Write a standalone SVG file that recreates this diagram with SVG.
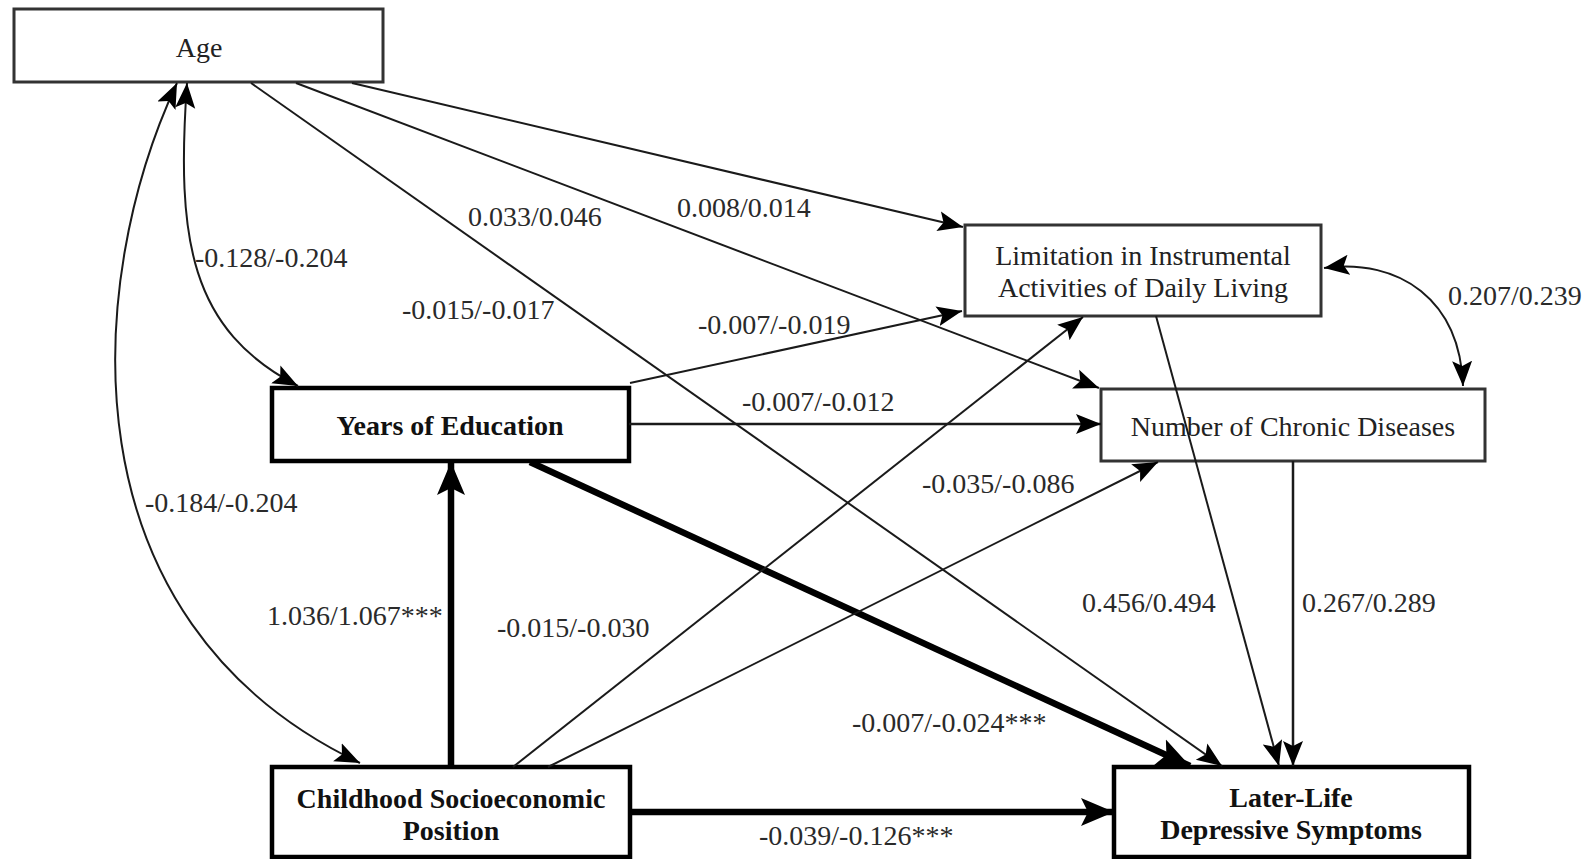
<svg xmlns="http://www.w3.org/2000/svg" width="1588" height="859" viewBox="0 0 1588 859">
<style>
  .box { fill: #fff; stroke: #333; stroke-width: 3; }
  .bbox { fill: #fff; stroke: #000; stroke-width: 4.5; }
  .nt { font-family: "Liberation Serif", "Times New Roman", serif; font-size: 28px; fill: #222; text-anchor: middle; }
  .bt { font-family: "Liberation Serif", "Times New Roman", serif; font-size: 28px; font-weight: bold; fill: #111; text-anchor: middle; }
  .lbl { font-family: "Liberation Serif", "Times New Roman", serif; font-size: 28px; fill: #2a2a2a; }
  .e { fill: none; stroke: #1a1a1a; stroke-width: 2; marker-end: url(#ah); }
  .e2 { fill: none; stroke: #1a1a1a; stroke-width: 2; marker-end: url(#ah); marker-start: url(#ah); }
  .eb { fill: none; stroke: #000; stroke-width: 6.5; marker-end: url(#ahb); }
</style>
<defs>
  <marker id="ah" markerUnits="userSpaceOnUse" viewBox="0 0 26 22" markerWidth="26" markerHeight="22" refX="25" refY="11" orient="auto-start-reverse">
    <path d="M0,1 L25,11 L0,21 L5,11 Z" fill="#000"/>
  </marker>
  <marker id="ahb" markerUnits="userSpaceOnUse" viewBox="0 0 34 30" markerWidth="34" markerHeight="30" refX="33" refY="15" orient="auto">
    <path d="M0,1 L33,15 L0,29 L7,15 Z" fill="#000"/>
  </marker>
</defs>

<g id="age">
  <rect class="box" x="14" y="9" width="369" height="73"/>
  <text class="nt" x="199" y="57">Age</text>
</g>
<g id="iadl">
  <rect class="box" x="965" y="225" width="356" height="91"/>
  <text class="nt" x="1143" y="265">Limitation in Instrumental</text>
  <text class="nt" x="1143" y="297">Activities of Daily Living</text>
</g>
<g id="education">
  <rect class="bbox" x="272" y="388" width="357" height="73"/>
  <text class="bt" x="450" y="435">Years of Education</text>
</g>
<g id="chronic">
  <rect class="box" x="1101" y="389" width="384" height="72"/>
  <text class="nt" x="1293" y="436">Number of Chronic Diseases</text>
</g>
<g id="childhood">
  <rect class="bbox" x="272" y="767" width="358" height="90"/>
  <text class="bt" x="451" y="808">Childhood Socioeconomic</text>
  <text class="bt" x="451" y="840">Position</text>
</g>
<g id="depressive">
  <rect class="bbox" x="1114" y="767" width="355" height="90"/>
  <text class="bt" x="1291" y="807">Later-Life</text>
  <text class="bt" x="1291" y="839">Depressive Symptoms</text>
</g>

<g id="connectors">
  <path class="e" d="M352,83 L963,227"/>
  <path class="e" d="M296,83 L1099,388"/>
  <path class="e" d="M251,83 L1222,766"/>
  <path class="e2" d="M187,83 C176,240 190,330 298,386"/>
  <path class="e2" d="M177,83 C85,280 60,620 360,763"/>
  <path class="e" d="M630,383 L962,311"/>
  <path class="e" style="stroke-width:2.5" d="M629,424 L1101,424"/>
  <path class="eb" d="M530,462 L1190,766"/>
  <path class="eb" d="M451,767 L451,462"/>
  <path class="e" d="M513,767 L1083,317"/>
  <path class="e" d="M548,767 L1158,462"/>
  <path class="eb" d="M630,812 L1114,812"/>
  <path class="e" d="M1156,316 L1279,766"/>
  <path class="e" style="stroke-width:2.5" d="M1293,461 L1293,766"/>
  <path class="e2" d="M1324,268 C1400,258 1460,300 1463,386"/>

  <text class="lbl" x="677" y="217">0.008/0.014</text>
  <text class="lbl" x="468" y="226">0.033/0.046</text>
  <text class="lbl" x="402" y="319">-0.015/-0.017</text>
  <text class="lbl" x="195" y="267">-0.128/-0.204</text>
  <text class="lbl" x="145" y="512">-0.184/-0.204</text>
  <text class="lbl" x="698" y="334">-0.007/-0.019</text>
  <text class="lbl" x="742" y="411">-0.007/-0.012</text>
  <text class="lbl" x="922" y="493">-0.035/-0.086</text>
  <text class="lbl" x="267" y="625">1.036/1.067***</text>
  <text class="lbl" x="497" y="637">-0.015/-0.030</text>
  <text class="lbl" x="1082" y="612">0.456/0.494</text>
  <text class="lbl" x="1302" y="612">0.267/0.289</text>
  <text class="lbl" x="852" y="732">-0.007/-0.024***</text>
  <text class="lbl" x="759" y="845">-0.039/-0.126***</text>
  <text class="lbl" x="1448" y="305">0.207/0.239</text>
</g>
</svg>
